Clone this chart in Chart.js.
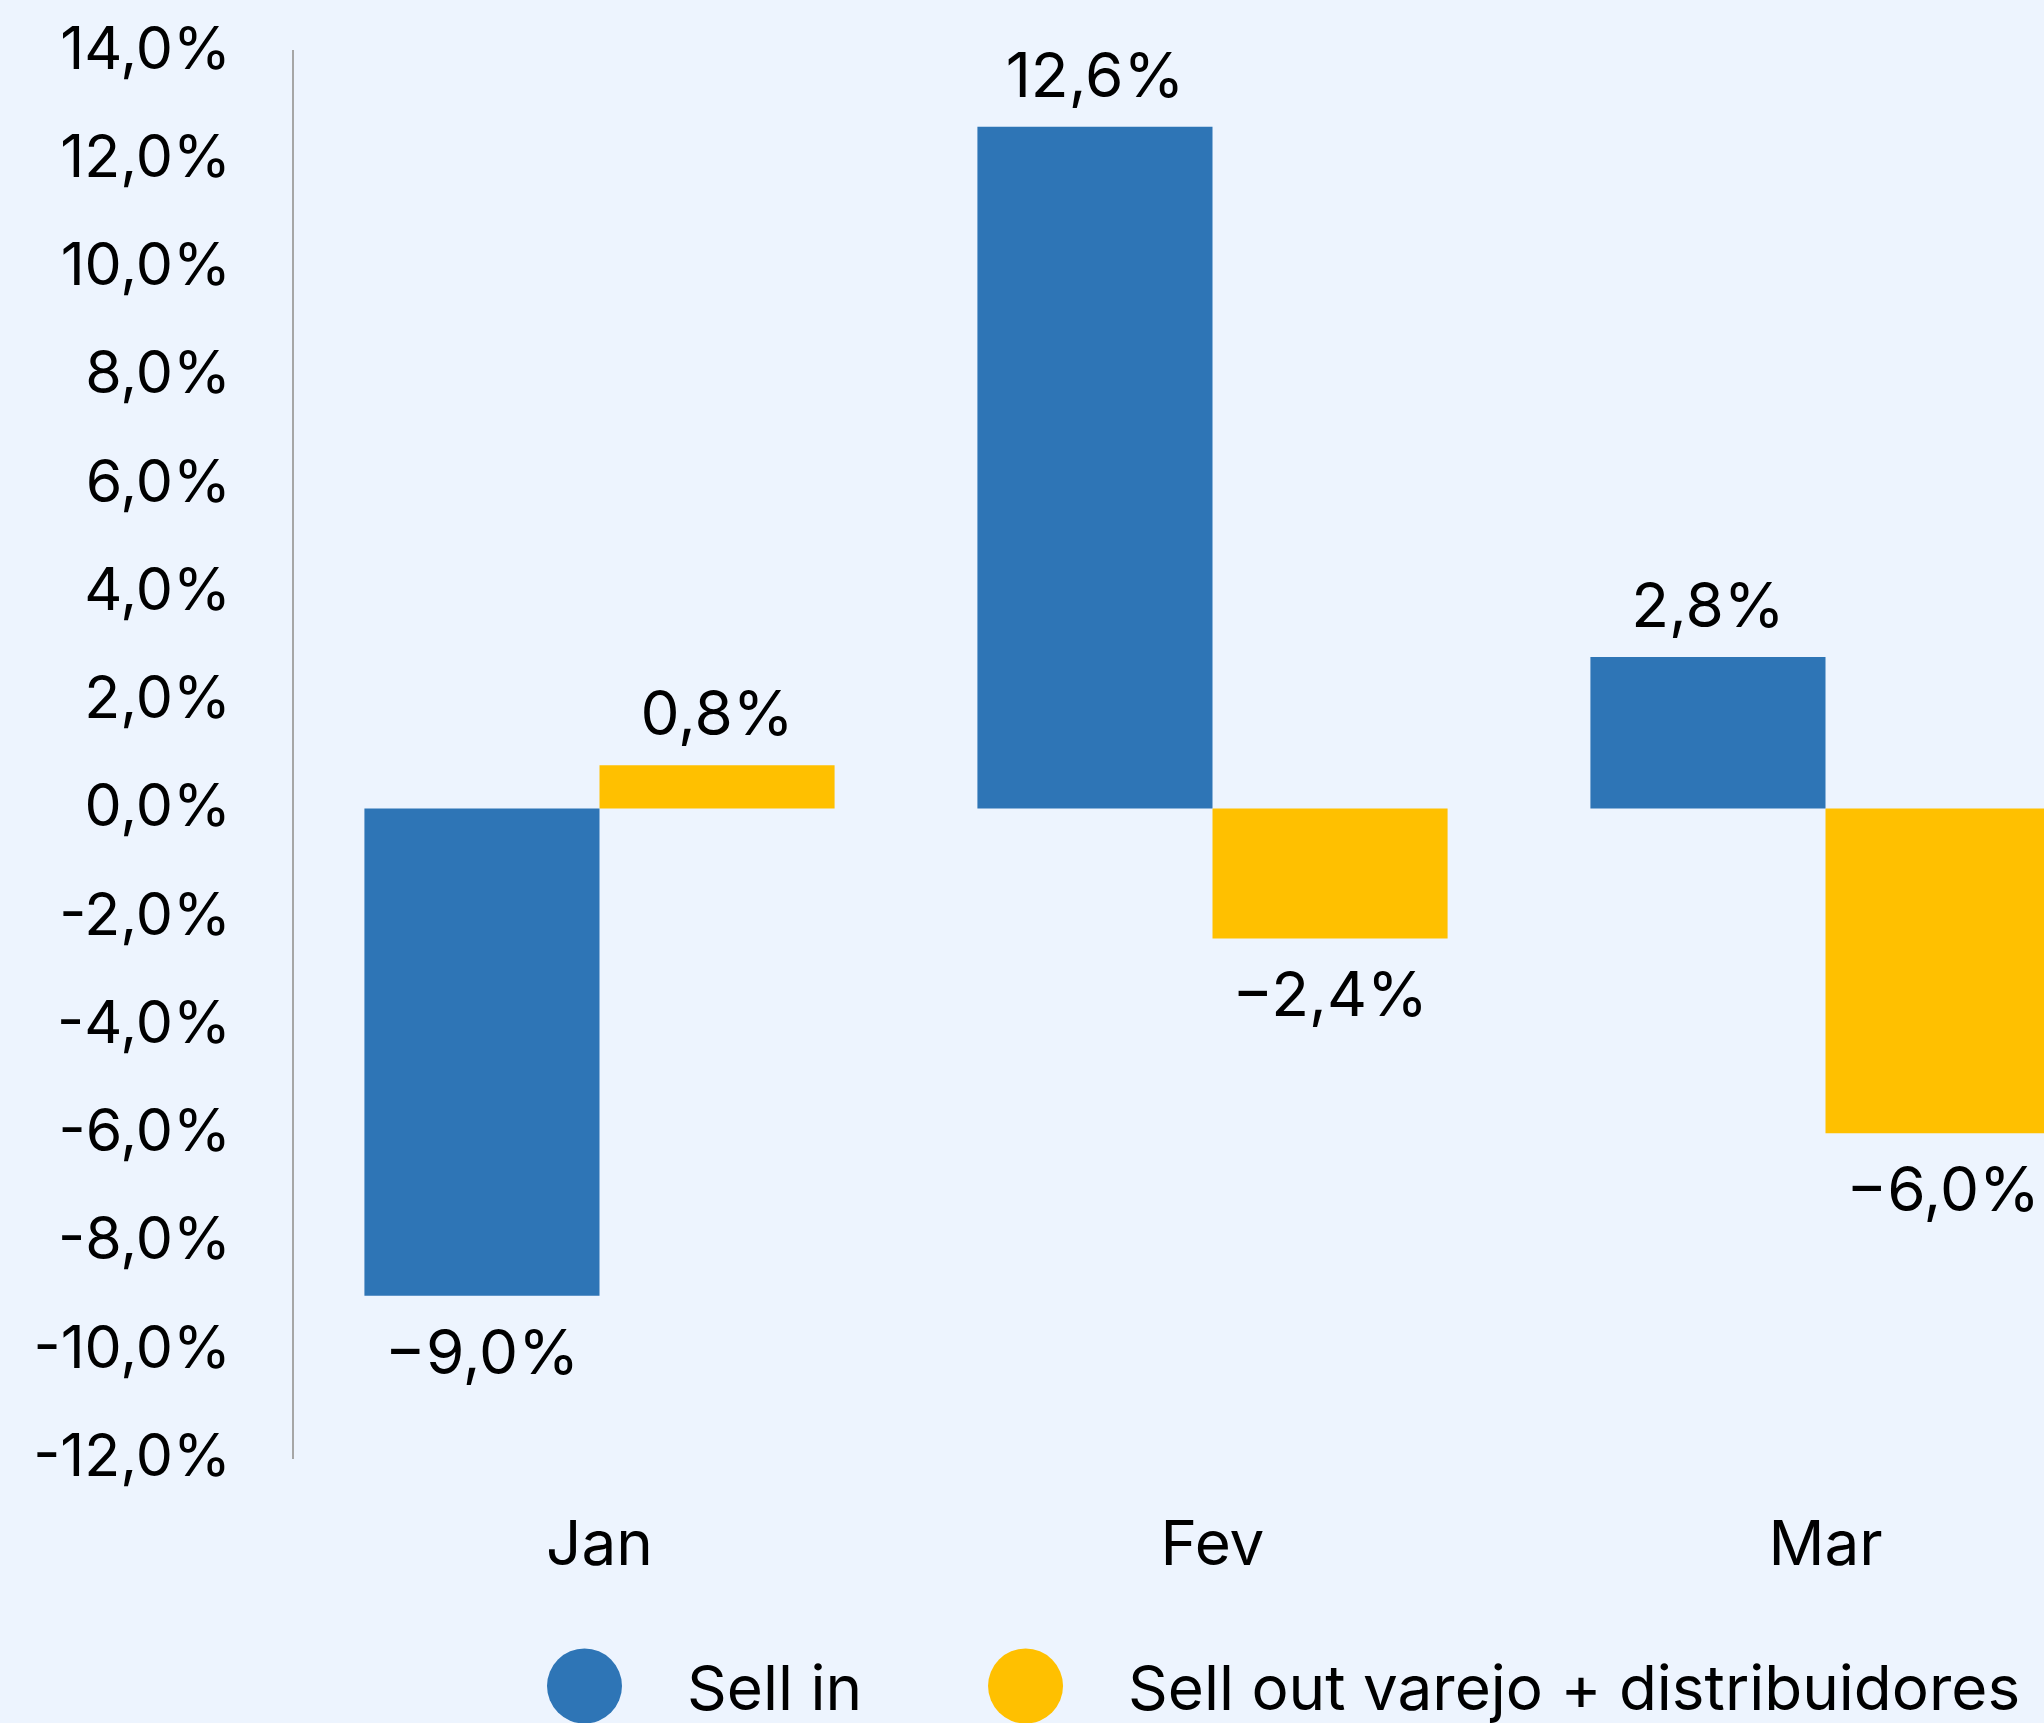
<!DOCTYPE html>
<html lang="pt-BR">
<head>
<meta charset="UTF-8">
<title>Sell in x Sell out</title>
<script src="https://cdn.jsdelivr.net/npm/chart.js"></script>
<style>
  html, body { margin: 0; padding: 0; background: #EDF4FE; overflow: hidden; }
  #wrap { width: 2044px; height: 1723px; overflow: hidden; }
</style>
</head>
<body>
<div id="wrap"><canvas id="chart" width="2132" height="1723"></canvas></div>
<script>
const months = ['Jan', 'Fev', 'Mar'];
const sellIn = [-9.0, 12.6, 2.8];
const sellOut = [0.8, -2.4, -6.0];
const seriesNames = ['Sell in', 'Sell out varejo + distribuidores'];
const seriesColors = ['#2E75B6', '#FFC000'];
const yMin = -12, yMax = 14, yStep = 2;

const FONT = 'Inter, "Noto Sans", sans-serif';
const FSIZE = 62;
const fmt = (v, minus) => (v < 0 ? minus : '') + Math.abs(v).toFixed(1).replace('.', ',') + '%';

// valores em cima / embaixo das barras
const valueLabels = {
    id: 'valueLabels',
    afterDatasetsDraw(chart) {
        const ctx = chart.ctx;
        ctx.save();
        ctx.font = FSIZE + 'px ' + FONT;
        ctx.fillStyle = '#000';
        ctx.textAlign = 'center';
        ctx.textBaseline = 'alphabetic';
        chart.data.datasets.forEach((ds, i) => {
            chart.getDatasetMeta(i).data.forEach((bar, j) => {
                const v = ds.data[j];
                const y = v >= 0 ? bar.y - 30 : bar.y + 78;
                ctx.fillText(fmt(v, '\u2212'), bar.x, y);
            });
        });
        ctx.restore();
    }
};

// legenda com bolinhas embaixo
const bottomLegend = {
    id: 'bottomLegend',
    afterDraw(chart) {
        const ctx = chart.ctx;
        const r = 37.5, cy = 1686;
        let x = 547;
        ctx.save();
        ctx.font = FSIZE + 'px ' + FONT;
        ctx.textBaseline = 'alphabetic';
        chart.data.datasets.forEach(ds => {
            ctx.fillStyle = ds.backgroundColor;
            ctx.beginPath();
            ctx.arc(x + r, cy, r, 0, Math.PI * 2);
            ctx.fill();
            ctx.fillStyle = '#000';
            const tx = x + 140;
            ctx.fillText(ds.label, tx, 1710);
            x = tx + ctx.measureText(ds.label).width + 126;
        });
        ctx.restore();
    }
};

new Chart(document.getElementById('chart'), {
    type: 'bar',
    data: {
        labels: months,
        datasets: [
            { label: seriesNames[0], data: sellIn, backgroundColor: seriesColors[0] },
            { label: seriesNames[1], data: sellOut, backgroundColor: seriesColors[1] }
        ]
    },
    options: {
        responsive: false,
        animation: false,
        layout: { padding: { top: 51, left: 0, right: 0, bottom: 0 } },
        datasets: { bar: { barPercentage: 1, categoryPercentage: 0.767 } },
        plugins: {
            legend: { display: false },
            tooltip: { enabled: false }
        },
        scales: {
            x: {
                grid: { display: false },
                border: { display: false },
                ticks: { color: '#000', font: { family: FONT, size: FSIZE }, padding: 43 },
                afterFit: s => { s.height = 265; }
            },
            y: {
                min: yMin,
                max: yMax,
                grid: { display: false, drawTicks: false },
                border: { display: true, color: '#A6A6A6', width: 2 },
                ticks: {
                    stepSize: yStep,
                    color: '#000',
                    font: { family: FONT, size: 59 },
                    padding: 62,
                    callback: v => fmt(v, '-')
                },
                afterFit: s => {
                    s.width = 293;
                    // o padding dos ticks não deve empurrar a área do gráfico
                    s.paddingTop = 0;
                    s.paddingBottom = 0;
                }
            }
        }
    },
    plugins: [valueLabels, bottomLegend]
});
</script>
</body>
</html>
